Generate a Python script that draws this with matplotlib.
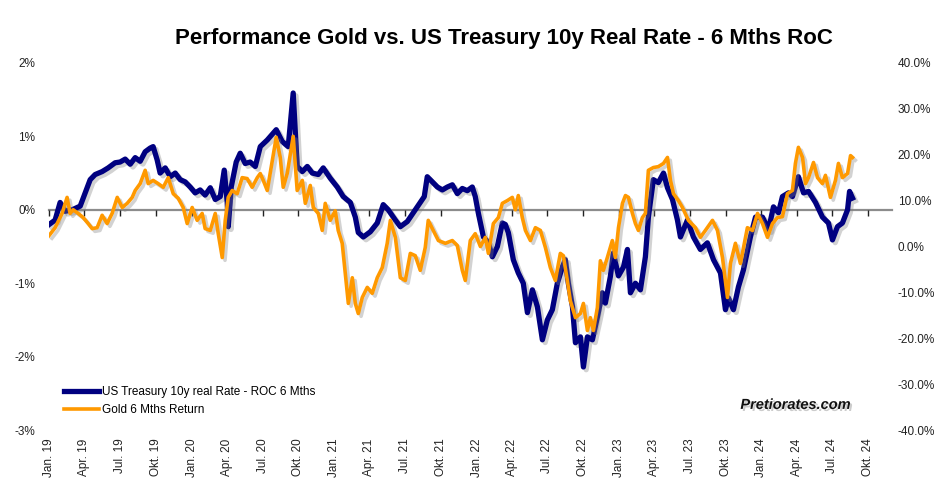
import numpy as np
import pandas as pd
import matplotlib
matplotlib.use("Agg")
import matplotlib.pyplot as plt
import matplotlib.patheffects as pe
from matplotlib.ticker import FuncFormatter

plt.rcParams['font.family'] = ['Liberation Sans', 'DejaVu Sans']

# years since 1 Jan 2019, US 10y real rate 6M change (percentage points)
t_rate = [0.000, 0.042, 0.077, 0.112, 0.162, 0.218, 0.253, 0.288, 0.323, 0.372,
          0.414, 0.463, 0.498, 0.534, 0.569, 0.604, 0.639, 0.674, 0.709, 0.730,
          0.758, 0.779, 0.815, 0.850, 0.885, 0.920, 0.955, 0.990, 1.025, 1.060,
          1.095, 1.131, 1.166, 1.201, 1.229, 1.250, 1.257, 1.278, 1.313, 1.341,
          1.376, 1.411, 1.447, 1.482, 1.531, 1.594, 1.636, 1.678, 1.713, 1.741,
          1.777, 1.812, 1.847, 1.889, 1.924, 1.973, 2.022, 2.064, 2.114, 2.149,
          2.170, 2.205, 2.254, 2.303, 2.345, 2.380, 2.430, 2.465, 2.514, 2.556,
          2.605, 2.633, 2.654, 2.689, 2.725, 2.760, 2.795, 2.830, 2.865, 2.900,
          2.935, 2.970, 2.991, 3.012, 3.048, 3.083, 3.111, 3.146, 3.181, 3.202,
          3.223, 3.258, 3.293, 3.328, 3.357, 3.392, 3.427, 3.462, 3.497, 3.532,
          3.567, 3.602, 3.623, 3.644, 3.673, 3.694, 3.729, 3.750, 3.778, 3.813,
          3.848, 3.883, 3.904, 3.939, 3.960, 3.996, 4.031, 4.059, 4.080, 4.115,
          4.150, 4.185, 4.206, 4.241, 4.276, 4.312, 4.340, 4.375, 4.410, 4.431,
          4.480, 4.522, 4.571, 4.620, 4.663, 4.712, 4.747, 4.768, 4.803, 4.838,
          4.873, 4.922, 4.958, 5.007, 5.049, 5.084, 5.119, 5.147, 5.189, 5.217,
          5.259, 5.295, 5.330, 5.379, 5.428, 5.470, 5.498, 5.533, 5.568, 5.604,
          5.618, 5.639]
rate_roc = [-0.20, -0.14, 0.10, -0.02, 0.00, 0.05, 0.23, 0.41, 0.48, 0.52,
            0.57, 0.64, 0.65, 0.69, 0.62, 0.71, 0.66, 0.79, 0.84, 0.86,
            0.68, 0.50, 0.57, 0.45, 0.50, 0.41, 0.38, 0.31, 0.23, 0.27,
            0.20, 0.30, 0.14, 0.18, 0.54, 0.10, -0.23, 0.31, 0.65, 0.77,
            0.63, 0.65, 0.59, 0.86, 0.95, 1.09, 0.93, 0.86, 1.59, 0.59,
            0.52, 0.59, 0.50, 0.48, 0.57, 0.43, 0.31, 0.18, 0.10, -0.10,
            -0.31, -0.37, -0.30, -0.18, 0.07, 0.00, -0.14, -0.23, -0.16, -0.04,
            0.10, 0.18, 0.45, 0.38, 0.31, 0.27, 0.31, 0.34, 0.22, 0.29,
            0.26, 0.31, 0.18, -0.04, -0.37, -0.45, -0.64, -0.50, -0.18, -0.20,
            -0.31, -0.68, -0.86, -1.00, -1.40, -1.09, -1.32, -1.77, -1.50, -1.36,
            -1.00, -0.78, -0.68, -1.00, -1.32, -1.81, -1.73, -2.14, -1.73, -1.77,
            -1.46, -1.13, -1.27, -0.91, -0.59, -0.90, -0.78, -0.54, -1.13, -1.00,
            -1.09, -0.64, -0.10, 0.41, 0.37, 0.50, 0.30, 0.14, -0.14, -0.37,
            -0.14, -0.37, -0.54, -0.45, -0.68, -0.86, -1.36, -1.20, -1.36, -1.05,
            -0.82, -0.37, -0.10, -0.10, -0.27, 0.04, -0.04, 0.18, 0.23, 0.18,
            0.45, 0.23, 0.25, 0.10, -0.10, -0.18, -0.41, -0.23, -0.18, 0.00,
            0.25, 0.16]

# years since 1 Jan 2019, gold 6M return (%)
t_gold = [0.000, 0.042, 0.091, 0.126, 0.147, 0.169, 0.204, 0.239, 0.274, 0.302,
          0.337, 0.372, 0.407, 0.442, 0.478, 0.513, 0.548, 0.583, 0.604, 0.639,
          0.674, 0.695, 0.730, 0.765, 0.801, 0.836, 0.871, 0.906, 0.941, 0.969,
          1.004, 1.039, 1.074, 1.095, 1.131, 1.166, 1.187, 1.215, 1.236, 1.257,
          1.285, 1.320, 1.355, 1.390, 1.425, 1.461, 1.482, 1.503, 1.531, 1.566,
          1.594, 1.622, 1.643, 1.671, 1.692, 1.713, 1.741, 1.777, 1.798, 1.833,
          1.854, 1.889, 1.917, 1.938, 1.973, 2.008, 2.029, 2.057, 2.079, 2.100,
          2.128, 2.149, 2.170, 2.198, 2.233, 2.268, 2.303, 2.338, 2.373, 2.395,
          2.430, 2.465, 2.500, 2.535, 2.570, 2.605, 2.640, 2.661, 2.696, 2.732,
          2.781, 2.830, 2.865, 2.900, 2.921, 2.956, 2.991, 3.027, 3.062, 3.083,
          3.118, 3.153, 3.181, 3.216, 3.251, 3.272, 3.293, 3.321, 3.343, 3.378,
          3.413, 3.448, 3.483, 3.518, 3.553, 3.588, 3.609, 3.637, 3.658, 3.694,
          3.729, 3.750, 3.778, 3.799, 3.820, 3.848, 3.869, 3.890, 3.918, 3.953,
          3.974, 3.996, 4.024, 4.045, 4.066, 4.094, 4.115, 4.136, 4.164, 4.185,
          4.206, 4.241, 4.276, 4.312, 4.340, 4.361, 4.382, 4.417, 4.445, 4.487,
          4.536, 4.571, 4.606, 4.656, 4.691, 4.726, 4.761, 4.782, 4.817, 4.852,
          4.901, 4.937, 4.972, 5.007, 5.042, 5.077, 5.112, 5.147, 5.182, 5.217,
          5.238, 5.259, 5.288, 5.309, 5.330, 5.365, 5.393, 5.428, 5.449, 5.484,
          5.519, 5.540, 5.568, 5.604, 5.625, 5.639]
gold_ret = [2.4, 4.1, 7.2, 10.7, 7.2, 8.0, 7.2, 6.3, 5.0, 3.9,
            4.1, 6.8, 5.0, 7.2, 10.7, 8.5, 9.4, 10.7, 12.2, 13.7,
            16.6, 13.7, 14.4, 13.7, 12.9, 15.0, 11.5, 10.5, 8.5, 5.0,
            8.5, 5.7, 7.2, 3.9, 3.5, 7.2, 2.8, -2.4, 5.7, 10.7,
            12.2, 11.5, 15.0, 14.8, 12.9, 15.0, 15.9, 14.4, 12.2, 18.7,
            23.8, 19.4, 12.9, 15.9, 20.0, 24.0, 12.2, 14.4, 9.4, 13.3,
            8.5, 7.2, 3.5, 9.4, 5.7, 7.8, 3.5, 0.7, -5.9, -12.4,
            -6.8, -12.4, -14.6, -11.1, -8.9, -10.2, -6.8, -4.6, 0.7, 5.7,
            2.0, -6.8, -7.4, -1.5, -2.0, -5.2, -0.2, 5.7, 3.5, 1.3,
            0.7, 1.3, 0.2, -5.2, -7.4, 1.3, 2.8, 0.0, 2.0, -1.5,
            5.0, 6.3, 9.4, 10.0, 10.7, 8.0, 11.1, 6.3, 3.5, 1.3,
            4.1, 3.5, -0.2, -4.6, -7.4, -1.5, -2.0, -7.4, -11.8, -15.5,
            -14.6, -12.4, -18.3, -15.5, -18.3, -13.3, -3.1, -5.2, -2.4, 1.3,
            -2.4, 4.1, 9.4, 11.1, 10.7, 7.2, 5.0, 3.5, 6.3, 7.2,
            16.6, 17.2, 17.4, 18.1, 19.4, 14.4, 11.5, 10.0, 8.5, 5.7,
            4.1, 2.0, 3.5, 5.7, 3.5, -2.4, -11.1, -3.7, 0.7, -3.7,
            4.1, 3.5, 7.2, 5.0, 2.0, 5.0, 6.3, 6.5, 11.5, 12.2,
            18.1, 21.6, 19.4, 13.7, 15.0, 18.3, 15.0, 13.7, 15.5, 10.7,
            14.4, 18.1, 15.0, 15.9, 19.8, 19.4]

start = pd.Timestamp('2019-01-01')
def to_dates(t):
    return start + pd.to_timedelta(np.array(t) * 365.25, unit='D')

d_rate = to_dates(t_rate)
d_gold = to_dates(t_gold)

tick_dates = pd.date_range('2019-01-01', '2024-10-01', freq='QS')
de_months = {1: 'Jan.', 4: 'Apr.', 7: 'Jul.', 10: 'Okt.'}
tick_labels = [f"{de_months[d.month]} {d.strftime('%y')}" for d in tick_dates]

navy = '#000080'
orange = '#FF9900'
shadow = [pe.SimpleLineShadow(offset=(2, -2), shadow_color='gray', alpha=0.35), pe.Normal()]

fig = plt.figure(figsize=(9.45, 4.95), dpi=100)
ax = fig.add_axes([0.052, 0.131, 0.892, 0.742])
ax2 = ax.twinx()

l1, = ax.plot(d_rate, rate_roc, color=navy, lw=3.8, solid_joinstyle='round',
              path_effects=shadow, label='US Treasury 10y real Rate - ROC 6 Mths')
l2, = ax2.plot(d_gold, gold_ret, color=orange, lw=2.6, solid_joinstyle='round',
               path_effects=shadow, label='Gold 6 Mths Return')

ax.set_xlim(start, pd.Timestamp('2024-12-01'))
ax.set_ylim(-3, 2)
ax2.set_ylim(-40, 40)
ax.set_yticks(np.arange(-3, 2.01, 1))
ax2.set_yticks(np.arange(-40, 40.1, 10))
ax.yaxis.set_major_formatter(FuncFormatter(lambda v, p: f"{v:.0f}%"))
ax2.yaxis.set_major_formatter(FuncFormatter(lambda v, p: f"{v:.1f}%"))

for a in (ax, ax2):
    for s in ('top', 'left', 'right'):
        a.spines[s].set_visible(False)
    a.tick_params(axis='y', length=0, labelsize=8.5, colors='#222222')
ax2.spines['bottom'].set_visible(False)
ax.tick_params(axis='y', pad=10)
ax2.tick_params(axis='y', pad=4)

# x axis crosses at 0 with small ticks
ax.spines['bottom'].set_position(('data', 0))
ax.spines['bottom'].set_color('#8c8c8c')
ax.spines['bottom'].set_linewidth(1.6)
ax.spines['bottom'].set_zorder(0.5)
ax.set_xticks(tick_dates)
ax.tick_params(axis='x', direction='out', length=4, width=1, color='#222222', labelbottom=False)

sec = ax.secondary_xaxis(0.0)
sec.set_xticks(tick_dates)
sec.set_xticklabels(tick_labels, rotation=90, fontsize=8.5, color='#222222')
sec.tick_params(axis='x', length=0, pad=6)
sec.spines['bottom'].set_visible(False)

fig.suptitle('Performance Gold vs. US Treasury 10y Real Rate - 6 Mths RoC',
             x=0.533, y=0.923, va='center', fontsize=16, fontweight='bold')

leg = ax2.legend(handles=[l1, l2], loc='lower left', bbox_to_anchor=(0.005, 0.01),
                 frameon=False, fontsize=8.5, handlelength=3.0, handletextpad=0.2,
                 labelspacing=0.5)
for h in leg.legend_handles:
    h.set_path_effects([])

fig.text(0.842, 0.182, 'Pretiorates.com', fontsize=10.5, fontweight='bold',
         style='italic', ha='center', va='center', color='#111111',
         path_effects=[pe.withSimplePatchShadow(offset=(1.5, -1.5), shadow_rgbFace='gray', alpha=0.4)])

fig.savefig('out.png', dpi=100)
